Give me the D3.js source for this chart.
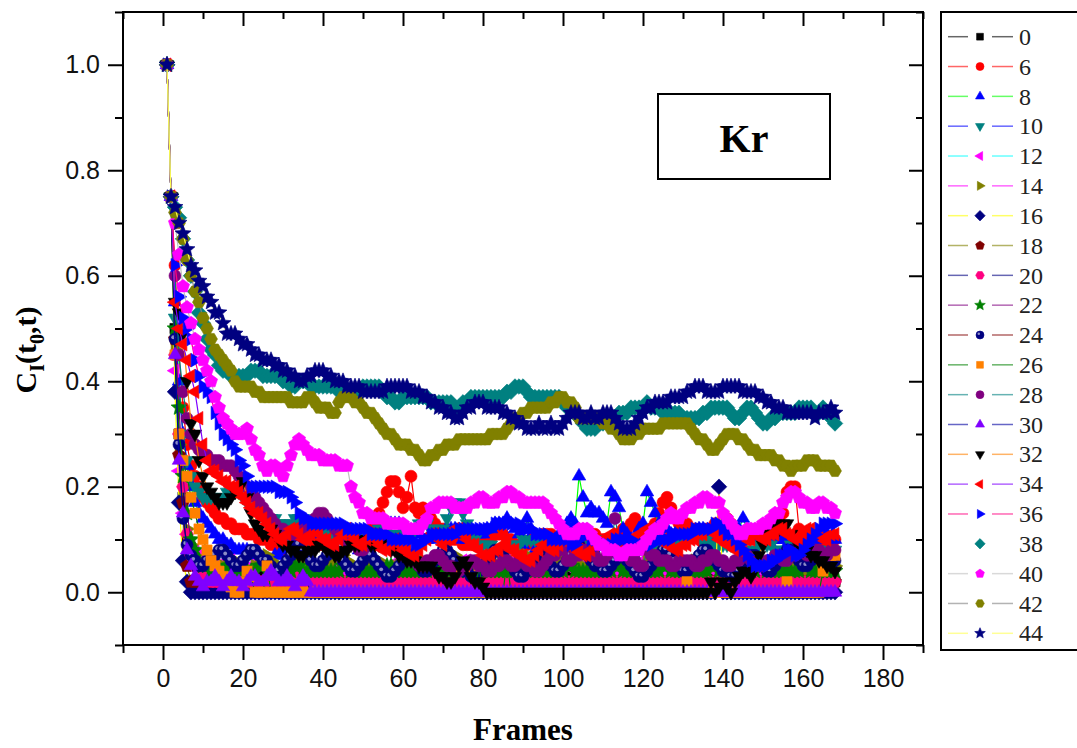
<!DOCTYPE html>
<html>
<head>
<meta charset="utf-8">
<script src="https://cdn.jsdelivr.net/npm/d3@7"></script>
<style>
  body { margin: 0; background: #fff; }
  svg { display: block; }
  .tick text { font-family: "Liberation Sans", Arial, sans-serif; font-size: 25px; fill: #111; }
  .tick line { stroke: #000; stroke-width: 2; }
</style>
</head>
<body>
<svg id="chart" width="1077" height="748"></svg>
<script>
"use strict";

// C_I(t0,t), one value per frame (frames 1..168), in hundredths
var s0 = [100,75,50,30,18,10,7,5,4,4,3,3,4,4,3,2,2,3,3,2,
  2,3,3,4,4,3,3,2,2,2,3,3,4,4,3,3,2,2,3,3,
  4,4,3,3,2,2,2,3,3,4,4,4,3,3,2,2,2,3,3,4,
  4,3,3,2,2,3,3,4,4,3,3,2,2,2,3,3,4,4,4,3,
  3,2,2,3,3,4,4,3,3,2,2,2,3,3,4,4,3,3,2,2,
  3,3,4,4,4,3,3,2,2,3,3,4,4,3,3,2,2,2,3,3,
  4,4,3,3,2,2,3,3,4,4,4,3,3,2,2,3,3,4,4,3,
  3,2,2,3,3,4,4,3,3,2,2,3,3,4,4,4,3,3,2,2,
  3,3,4,4,3,3,2,2];
var s6 = [100,75,62,45,35,28,24,22,20,18,17,16,15,14,14,13,13,12,12,12,
  11,11,11,10,10,10,9,9,9,8,8,8,9,9,10,10,10,9,9,9,
  10,10,10,11,11,11,10,10,10,11,11,12,13,15,17,19,21,21,19,16,
  18,22,16,15,16,15,14,13,12,12,11,10,10,10,9,9,9,9,10,10,
  10,10,11,11,11,10,10,9,9,9,9,10,10,10,11,11,11,10,10,10,
  10,9,9,9,10,10,11,11,10,10,10,10,11,11,12,12,13,14,12,11,
  11,12,13,15,17,18,16,14,13,13,13,12,12,11,11,12,12,13,13,14,
  14,13,12,11,10,10,10,11,11,11,12,12,13,14,15,19,20,20,12,11,
  10,9,9,8,8,9,9,10];
var s8 = [100,75,55,40,30,24,20,17,15,14,13,12,11,10,10,9,9,8,8,8,
  8,7,7,7,6,6,6,7,7,8,8,9,9,10,10,11,11,12,12,12,
  12,11,11,10,10,9,9,9,8,8,8,9,9,10,11,12,13,13,13,12,
  12,11,11,11,10,10,10,11,11,11,12,12,12,11,10,10,10,11,11,11,
  12,12,13,13,13,14,13,12,11,9,14,12,8,7,7,8,9,10,11,12,
  13,14,13,22,18,15,16,15,15,14,13,19,18,16,12,11,10,10,12,13,
  19,17,15,13,12,12,11,11,10,10,10,11,11,12,12,11,10,10,11,13,
  12,11,11,12,14,12,11,10,10,9,9,9,10,10,10,9,9,8,8,8,
  9,9,10,10,11,11,10,10];
var s10 = [100,75,52,38,30,25,22,20,19,18,18,18,18,18,18,19,19,19,19,18,
  17,16,16,15,15,14,14,14,13,13,13,13,14,14,14,13,13,12,12,12,
  12,11,11,11,10,10,10,10,10,11,11,11,11,12,12,12,11,11,11,11,
  12,12,12,13,13,13,12,12,12,12,14,16,17,17,15,13,11,10,9,9,
  9,9,8,8,8,8,9,9,9,10,10,10,10,10,10,9,9,9,9,9,
  9,8,8,8,8,8,9,9,9,9,10,10,10,10,9,9,9,9,8,8,
  8,8,9,9,9,9,10,10,10,10,11,11,11,10,10,10,9,9,9,9,
  9,9,9,8,8,8,8,8,9,9,9,9,8,8,8,8,9,9,9,9,
  9,8,8,8,8,8,8,8];
var s12 = [100,75,42,23,15,11,9,8,7,7,6,6,6,5,5,6,6,5,5,4,
  4,5,5,6,6,5,4,4,3,3,4,5,6,6,5,5,4,4,5,5,
  6,6,5,4,4,3,3,4,5,5,6,6,5,5,4,4,5,5,6,6,
  5,4,4,3,3,4,5,6,6,5,4,4,5,5,6,6,5,5,4,4,
  3,3,4,5,5,6,6,5,4,4,5,6,6,5,5,4,4,3,3,4,
  5,5,6,6,5,4,4,5,5,6,6,5,4,4,3,3,4,5,5,6,
  6,5,5,4,4,5,6,6,5,5,4,4,5,5,6,6,5,4,4,3,
  3,4,5,5,6,6,5,5,4,4,5,6,6,5,4,4,5,5,6,6,
  5,5,4,4,5,5,6,6];
var s14 = [100,75,46,28,18,12,9,7,6,5,5,5,4,4,5,5,6,6,5,5,
  4,4,5,6,6,7,6,5,5,4,4,5,5,6,6,5,5,4,4,5,
  5,6,6,7,7,6,5,5,4,4,5,5,6,6,5,4,4,5,5,6,
  6,7,7,6,6,5,5,4,4,5,6,6,7,6,5,5,4,4,5,5,
  6,6,5,5,4,4,5,5,6,7,7,6,6,5,5,4,4,5,6,6,
  7,7,6,5,5,4,4,5,5,6,6,7,7,6,5,5,4,4,5,5,
  6,6,7,7,6,6,5,5,4,4,5,5,6,6,7,6,6,5,5,4,
  4,5,5,6,6,7,7,6,5,5,4,4,5,6,6,7,7,6,5,5,
  4,4,5,5,6,6,5,5];
var s16 = [100,75,38,17,6,2,0,0,0,0,0,0,0,0,0,0,0,0,0,0,
  0,0,0,0,0,0,0,0,0,0,0,0,0,0,0,0,0,0,0,0,
  0,0,0,0,0,0,0,0,0,0,0,0,0,0,0,0,0,0,0,0,
  0,0,0,0,0,0,0,0,0,0,0,0,0,0,0,0,0,0,0,0,
  0,0,0,0,0,0,0,0,0,0,0,0,0,0,0,0,0,0,0,0,
  0,0,0,0,0,0,0,0,0,0,0,0,0,0,0,0,0,0,0,0,
  0,0,0,0,0,0,0,0,0,0,0,0,0,0,0,0,0,0,20,0,
  0,0,0,0,0,0,0,0,0,0,0,0,0,0,0,0,0,0,0,0,
  0,0,0,0,0,0,0,0];
var s18 = [100,75,48,26,17,5,2,2,2,2,2,2,2,2,2,2,2,2,2,2,
  2,2,2,2,2,2,2,2,2,2,2,2,2,2,2,2,2,2,2,2,
  2,2,2,2,2,2,2,2,2,2,2,2,2,2,2,2,2,2,2,2,
  2,2,2,2,2,2,2,2,2,2,2,2,2,2,2,2,2,2,2,2,
  2,2,2,2,2,2,2,2,2,2,2,2,2,2,2,2,2,2,2,2,
  2,2,2,2,2,2,2,2,2,2,2,2,2,2,2,2,2,2,2,2,
  2,2,2,2,2,2,2,2,2,2,2,2,2,2,2,2,2,2,2,2,
  2,2,2,2,2,2,2,2,2,2,2,2,2,2,2,2,2,2,2,2,
  2,2,2,2,2,2,2,2];
var s20 = [100,75,45,30,20,11,7,5,4,3,3,2,2,2,2,2,2,2,2,2,
  2,2,2,2,2,2,2,2,2,2,2,2,4,2,2,2,2,2,2,2,
  2,2,2,2,2,2,2,2,2,2,2,2,2,2,2,2,2,2,2,2,
  2,2,2,2,2,2,2,4,2,2,2,2,2,2,2,2,2,2,2,2,
  2,2,2,2,2,2,2,2,2,2,2,2,2,2,2,2,4,2,2,2,
  2,2,2,2,2,2,2,2,2,2,2,2,2,2,2,2,2,2,2,2,
  2,2,2,2,2,2,2,2,2,4,2,2,2,2,2,2,2,2,2,2,
  2,2,2,2,2,2,2,2,2,2,2,2,2,2,2,2,2,2,2,2,
  2,2,2,2,2,2,2,2];
var s22 = [100,75,50,35,22,15,10,8,6,5,5,4,4,4,4,5,5,4,4,4,
  4,4,4,5,5,4,4,4,4,4,4,4,5,5,4,4,4,4,4,4,
  4,4,4,4,5,5,4,4,4,4,4,4,4,4,4,5,5,4,4,4,
  4,4,4,4,4,4,5,5,4,4,4,4,4,4,4,4,4,4,5,5,
  4,4,4,4,4,4,4,4,4,5,5,4,4,4,4,4,4,4,4,4,
  5,5,4,4,4,4,4,4,4,4,4,4,5,5,4,4,4,4,4,4,
  4,4,4,4,5,5,4,4,4,4,4,4,4,4,4,4,5,5,4,4,
  4,4,4,4,4,4,4,4,5,5,4,4,4,4,4,4,4,4,4,5,
  5,4,4,4,4,4,4,4];
var s24 = [100,75,48,28,14,9,7,6,5,5,6,6,7,8,8,7,6,5,5,6,
  7,8,8,7,6,6,5,4,4,5,6,7,8,9,8,7,6,5,5,6,
  7,8,8,7,6,5,4,4,5,6,7,7,6,5,4,3,3,4,5,6,
  7,7,6,5,4,4,5,6,7,8,8,7,6,5,4,4,3,3,4,5,
  6,7,8,8,7,6,5,4,3,3,4,5,6,7,7,6,5,4,4,5,
  6,7,8,9,8,7,6,5,5,4,4,5,6,7,7,6,5,4,3,3,
  4,5,6,7,8,8,7,6,5,4,4,5,6,7,8,8,7,6,5,4,
  4,3,3,4,5,6,7,7,6,5,4,4,5,6,7,8,8,7,6,5,
  5,6,7,7,6,5,5,6];
var s26 = [100,75,45,30,25,22,18,15,12,10,8,6,5,4,3,2,1,0,0,2,
  4,3,0,0,0,5,0,0,0,0,0,0,0,0,0,0,0,0,0,0,
  0,0,0,0,0,0,0,0,0,0,0,0,0,0,0,0,0,0,0,0,
  0,0,0,0,0,0,0,0,0,0,0,0,0,0,0,0,0,0,5,0,
  0,0,0,0,0,6,0,0,0,0,0,0,0,0,0,0,0,0,0,0,
  0,0,0,0,0,0,0,0,0,0,0,0,0,0,0,0,0,0,0,0,
  0,0,0,0,0,0,0,0,0,0,2,0,0,0,0,0,0,0,0,0,
  0,0,0,0,0,0,0,0,0,0,0,0,0,0,0,2,0,0,0,0,
  0,0,0,0,4,7,7,7];
var s28 = [100,75,60,45,38,33,30,28,27,26,26,25,25,25,24,24,24,23,22,21,
  20,19,18,17,16,15,14,13,12,12,11,11,11,12,12,13,13,14,15,15,
  14,13,12,11,10,10,9,9,8,8,9,10,10,11,11,10,9,8,8,7,
  7,6,6,5,5,6,6,7,7,6,5,5,4,4,5,5,6,6,5,5,
  4,4,5,5,6,6,5,5,6,6,5,5,4,4,5,6,7,7,8,8,
  6,6,7,7,8,8,7,7,6,6,7,9,14,10,8,7,6,6,5,5,
  8,7,7,6,6,6,5,5,6,6,6,6,5,5,6,6,7,7,6,6,
  5,5,6,6,7,7,6,6,5,5,6,6,7,7,6,6,7,7,8,8,
  7,7,8,8,7,7,8,8];
var s30 = [100,75,45,25,15,8,5,3,2,1,2,2,3,2,1,2,3,2,2,1,
  2,3,3,2,2,3,4,3,2,2,3,2,1,2,3,2,0,0,0,0,
  0,0,0,0,0,0,0,0,0,0,0,0,0,0,0,0,0,0,0,0,
  0,0,0,0,0,0,0,0,0,0,0,0,0,0,0,0,0,0,0,0,
  0,0,0,0,0,0,0,0,0,0,0,0,0,0,0,0,0,0,0,0,
  0,0,0,0,0,0,0,0,0,0,0,0,0,0,0,0,0,0,0,0,
  0,0,0,0,0,0,0,0,0,0,0,0,0,0,0,0,0,0,0,0,
  0,0,0,0,0,0,0,0,0,0,0,0,0,0,0,0,0,0,0,0,
  0,0,0,0,0,0,0,0];
var s32 = [100,75,55,53,49,40,32,30,25,22,20,19,18,17,17,17,18,19,20,21,
  18,15,13,12,11,11,12,11,10,9,9,8,8,7,7,8,8,8,9,9,
  8,8,7,7,8,8,9,9,9,10,10,9,9,9,10,9,8,8,7,7,
  6,6,6,5,5,5,5,4,3,3,2,2,3,5,6,5,3,2,2,1,
  0,0,0,0,0,0,0,0,0,0,0,0,0,0,0,0,0,0,0,0,
  0,0,0,0,0,0,0,0,0,0,0,0,0,0,0,0,0,0,0,0,
  0,0,0,0,0,0,0,0,0,0,0,0,0,0,0,0,2,0,1,2,
  1,0,2,3,4,4,3,5,7,9,11,12,13,12,13,13,11,10,9,8,
  8,7,7,6,6,5,5,4];
var s34 = [100,75,55,50,47,44,41,38,33,28,25,23,23,22,21,21,20,20,19,18,
  17,16,15,15,14,13,12,11,10,10,11,12,12,11,10,10,11,12,11,10,
  10,9,9,10,11,12,11,10,9,9,10,11,10,9,8,8,9,10,9,8,
  8,7,7,8,9,10,11,11,10,9,10,11,12,12,11,10,9,9,8,7,
  7,7,8,8,9,9,8,8,7,7,6,6,7,8,9,9,8,8,9,10,
  10,9,8,8,7,7,8,9,9,10,10,11,11,10,9,9,10,10,11,11,
  12,12,11,10,10,9,9,8,8,9,9,10,10,11,11,12,12,11,10,10,
  9,9,8,8,9,10,10,11,11,10,10,11,11,12,12,11,11,10,10,11,
  12,12,11,11,10,10,11,11];
var s36 = [100,75,62,56,52,50,48,44,41,39,38,37,34,32,30,29,28,27,25,24,
  22,20,20,20,20,20,20,20,19,19,19,18,17,15,14,14,13,13,13,13,
  13,13,13,13,13,12,12,12,12,12,12,11,11,11,11,11,10,10,10,10,
  10,10,9,9,10,10,11,11,11,11,11,11,11,12,12,12,12,12,12,12,
  12,12,13,13,13,13,13,13,13,12,12,12,11,11,11,11,10,10,10,10,
  10,9,9,10,11,11,10,10,9,9,9,9,10,10,10,10,10,9,9,9,
  9,9,10,10,10,10,10,11,11,11,11,11,12,12,12,12,12,13,13,12,
  11,11,10,9,8,7,6,5,5,5,5,6,6,7,7,8,8,7,7,8,
  9,10,11,12,13,13,13,13];
var s38 = [100,75,73,71,67,63,60,57,53,51,48,46,45,43,42,42,41,41,41,41,
  41,42,42,42,41,41,41,41,41,40,40,39,39,40,40,40,39,39,39,39,
  39,39,39,38,38,38,38,38,38,39,39,39,39,39,38,37,37,36,36,37,
  37,37,37,37,37,37,36,36,36,36,36,36,35,35,36,36,37,37,37,37,
  37,37,37,37,37,38,38,39,39,39,38,37,37,37,37,37,37,37,37,36,
  35,35,34,33,32,31,31,31,32,32,33,33,33,34,34,34,35,35,35,35,
  36,35,35,35,34,34,34,34,34,33,33,33,33,33,34,34,35,35,35,35,
  35,34,33,33,34,35,35,34,33,32,32,33,33,34,34,34,34,34,35,35,
  35,35,34,34,35,34,33,32];
var s40 = [100,75,70,64,58,54,51,48,46,44,42,40,37,35,33,32,31,30,30,30,
  31,29,27,26,24,23,24,24,23,22,24,26,28,29,28,27,26,26,26,25,
  25,25,25,24,24,24,20,18,17,15,15,14,14,14,14,13,13,13,13,13,
  12,12,12,12,13,14,16,16,17,17,17,17,16,16,16,16,17,17,18,18,
  17,17,17,18,18,19,19,18,18,17,17,17,17,17,17,16,15,14,13,12,
  11,11,11,12,12,12,11,10,9,9,8,8,8,7,7,8,8,8,8,9,
  10,11,12,12,13,14,15,14,14,15,16,16,17,17,18,18,17,17,17,15,
  14,13,12,11,11,12,12,12,12,13,13,14,15,15,17,18,19,19,18,17,
  17,16,16,17,17,16,16,15];
var s42 = [100,75,72,70,67,63,60,57,55,52,50,48,46,45,44,43,42,40,39,39,
  39,39,38,38,37,37,37,37,37,37,37,36,36,36,36,37,37,36,35,35,
  35,34,34,36,37,37,37,36,36,35,34,34,33,32,31,30,30,29,28,28,
  28,27,27,26,25,25,26,26,27,27,28,28,28,29,29,29,29,29,29,29,
  29,30,30,30,30,31,32,33,33,34,34,35,35,35,35,35,36,36,37,37,
  36,36,35,33,33,33,33,33,33,32,32,31,31,30,29,29,29,30,30,31,
  31,31,31,31,32,32,32,32,32,32,32,31,30,29,29,28,27,27,28,29,
  30,30,30,29,29,28,27,27,26,26,26,26,25,25,24,24,23,24,24,24,
  25,25,25,24,24,24,24,23];
var s44 = [100,75,73,70,68,65,62,61,59,58,56,55,53,53,51,49,49,49,48,47,
  47,46,45,45,44,44,44,43,43,42,42,41,41,40,40,41,41,42,42,42,
  41,41,40,40,40,39,39,39,39,38,38,38,38,38,38,39,39,39,39,39,
  39,38,38,38,37,37,36,36,35,35,34,34,33,33,34,35,35,36,36,36,
  35,35,35,35,34,34,33,33,32,32,31,31,31,32,31,31,32,31,31,32,
  33,34,34,34,33,33,34,33,33,34,34,34,33,32,31,31,31,32,33,34,
  35,35,36,36,36,36,37,37,37,37,38,38,39,39,39,38,38,38,38,39,
  39,39,39,39,38,38,38,38,37,37,36,36,35,35,35,34,34,34,34,34,
  34,34,33,34,34,34,35,34];

var seriesNames = ["0","6","8","10","12","14","16","18","20","22","24",
  "26","28","30","32","34","36","38","40","42","44"];
var seriesValues = [s0, s6, s8, s10, s12, s14, s16, s18, s20, s22, s24,
  s26, s28, s30, s32, s34, s36, s38, s40, s42, s44];
var lineColors = ["#000000","#FF0000","#00FF00","#0000FF","#00FFFF","#FF00FF","#FFFF00",
  "#808000","#000080","#800080","#800000","#008000","#008080","#0000A0","#FF8000",
  "#8000FF","#FF0080","#FFFFFF","#C0C0C0","#808080","#FFFF50"];
var markColors = ["#000000","#FF0000","#0000FF","#008080","#FF00FF","#808000","#000080",
  "#800000","#FF0080","#008000","#000080","#FF8000","#800080","#8000FF","#000000",
  "#FF0000","#0000FF","#008080","#FF00FF","#808000","#000080"];
var markShapes = ["square","circle","up","down","left","right","diamond","pentagon",
  "hexagon","star","sphere","square","circle","up","down","left","right","diamond",
  "pentagon","hexagon","star"];

var xTicks = [0, 20, 40, 60, 80, 100, 120, 140, 160, 180];
var yTicks = [0, 0.2, 0.4, 0.6, 0.8, 1.0];
var xMinor = d3.range(-10, 191, 20);
var yMinor = [-0.1, 0.1, 0.3, 0.5, 0.7, 0.9, 1.1];

var svg = d3.select("#chart");
var x = d3.scaleLinear().domain([-10, 190]).range([123, 923]);
var y = d3.scaleLinear().domain([-0.1, 1.1]).range([645, 12]);

// marker outlines
function polygon(n, R, a0) {
  var pts = d3.range(n).map(function(k) {
    var a = a0 + k * 2 * Math.PI / n;
    return [R * Math.cos(a), R * Math.sin(a)];
  });
  return d3.line()(pts) + "Z";
}
function starPath(R) {
  var pts = d3.range(10).map(function(k) {
    var a = -Math.PI / 2 + k * Math.PI / 5;
    var r = k % 2 ? R * 0.45 : R;
    return [r * Math.cos(a), r * Math.sin(a)];
  });
  return d3.line()(pts) + "Z";
}
function shapePath(shape, r) {
  switch (shape) {
    case "square": return polygon(4, r * 1.2, Math.PI / 4);
    case "up": return polygon(3, r * 1.3, -Math.PI / 2);
    case "down": return polygon(3, r * 1.3, Math.PI / 2);
    case "left": return polygon(3, r * 1.3, Math.PI);
    case "right": return polygon(3, r * 1.3, 0);
    case "diamond": return polygon(4, r * 1.3, -Math.PI / 2);
    case "pentagon": return polygon(5, r * 1.15, -Math.PI / 2);
    case "hexagon": return polygon(6, r * 1.08, 0);
    case "star": return starPath(r * 1.4);
    default: return d3.symbol(d3.symbolCircle, Math.PI * r * r)();
  }
}
function drawMarker(g, shape, color, r) {
  g.append("path")
    .attr("d", shapePath(shape, r))
    .attr("fill", color)
    .attr("stroke", color)
    .attr("stroke-width", 0.6);
  if (shape === "sphere") {
    g.append("circle")
      .attr("cx", -r * 0.3).attr("cy", -r * 0.3).attr("r", r * 0.32)
      .attr("fill", "#fff").attr("opacity", 0.55);
  }
}

// axes
function styleAxis(g) {
  g.select(".domain").remove();
  g.selectAll(".tick line").attr("stroke", "#000").attr("stroke-width", 2);
}
svg.append("g").attr("transform", "translate(0,645)")
  .call(d3.axisBottom(x).tickValues(xTicks).tickSize(15).tickPadding(9).tickFormat(d3.format("d")))
  .call(styleAxis);
svg.append("g").attr("transform", "translate(0,645)")
  .call(d3.axisBottom(x).tickValues(xMinor).tickSize(8).tickFormat(""))
  .call(styleAxis);
svg.append("g").attr("transform", "translate(123,0)")
  .call(d3.axisLeft(y).tickValues(yTicks).tickSize(15).tickPadding(8).tickFormat(d3.format(".1f")))
  .call(styleAxis);
svg.append("g").attr("transform", "translate(123,0)")
  .call(d3.axisLeft(y).tickValues(yMinor).tickSize(8).tickFormat(""))
  .call(styleAxis);
// mirrored ticks pointing inward on top and right
svg.append("g").attr("transform", "translate(0,12)")
  .call(d3.axisBottom(x).tickValues(xTicks).tickSize(14).tickFormat(""))
  .call(styleAxis);
svg.append("g").attr("transform", "translate(0,12)")
  .call(d3.axisBottom(x).tickValues(xMinor).tickSize(7).tickFormat(""))
  .call(styleAxis);
svg.append("g").attr("transform", "translate(923,0)")
  .call(d3.axisLeft(y).tickValues(yTicks).tickSize(14).tickFormat(""))
  .call(styleAxis);
svg.append("g").attr("transform", "translate(923,0)")
  .call(d3.axisLeft(y).tickValues(yMinor).tickSize(7).tickFormat(""))
  .call(styleAxis);

svg.append("rect")
  .attr("x", x(-10)).attr("y", y(1.1))
  .attr("width", x(190) - x(-10)).attr("height", y(-0.1) - y(1.1))
  .attr("fill", "none").attr("stroke", "#000").attr("stroke-width", 2);

// series
var line = d3.line()
  .x(function(d) { return x(d.t); })
  .y(function(d) { return y(d.v); });

seriesValues.forEach(function(vals, i) {
  var pts = vals.map(function(p, k) { return { t: k + 1, v: p / 100 }; });
  var g = svg.append("g").attr("class", "series");
  g.append("path")
    .datum(pts)
    .attr("d", line)
    .attr("fill", "none")
    .attr("stroke", lineColors[i])
    .attr("stroke-width", 1.2);
  g.selectAll("g.mark")
    .data(pts)
    .enter().append("g")
    .attr("class", "mark")
    .attr("transform", function(d) { return "translate(" + x(d.t) + "," + y(d.v) + ")"; })
    .each(function() { drawMarker(d3.select(this), markShapes[i], markColors[i], 6); });
});

// "Kr" label box
svg.append("rect")
  .attr("x", 658).attr("y", 94).attr("width", 172).attr("height", 85)
  .attr("fill", "#fff").attr("stroke", "#000").attr("stroke-width", 2);
svg.append("text")
  .attr("x", 744).attr("y", 152)
  .attr("text-anchor", "middle")
  .style("font-family", "'Liberation Serif', 'Times New Roman', serif")
  .style("font-weight", "bold").style("font-size", "40px")
  .text("Kr");

// axis titles
svg.append("text")
  .attr("x", 523).attr("y", 740)
  .attr("text-anchor", "middle")
  .style("font-family", "'Liberation Serif', 'Times New Roman', serif")
  .style("font-weight", "bold").style("font-size", "31px")
  .text("Frames");

var yTitle = svg.append("text")
  .attr("transform", "translate(36,350) rotate(-90)")
  .attr("text-anchor", "middle")
  .style("font-family", "'Liberation Serif', 'Times New Roman', serif")
  .style("font-weight", "bold").style("font-size", "30px");
yTitle.append("tspan").text("C");
yTitle.append("tspan").attr("dy", 8).style("font-size", "20px").text("I");
yTitle.append("tspan").attr("dy", -8).text("(t");
yTitle.append("tspan").attr("dy", 8).style("font-size", "20px").text("0");
yTitle.append("tspan").attr("dy", -8).text(",t)");

// legend
svg.append("rect")
  .attr("x", 941).attr("y", 12).attr("width", 150).attr("height", 638)
  .attr("fill", "#fff").attr("stroke", "#000").attr("stroke-width", 2);
var ly = d3.scaleLinear().domain([0, seriesNames.length - 1]).range([36.7, 633.3]);
seriesNames.forEach(function(name, i) {
  var row = svg.append("g").attr("transform", "translate(0," + ly(i) + ")");
  [[948, 968], [992, 1013]].forEach(function(seg) {
    row.append("line")
      .attr("x1", seg[0]).attr("x2", seg[1])
      .attr("stroke", lineColors[i]).attr("stroke-width", 1.5)
      .attr("stroke-opacity", 0.6);
  });
  var m = row.append("g").attr("transform", "translate(980,0)");
  drawMarker(m, markShapes[i], markColors[i], 4);
  row.append("text")
    .attr("x", 1019).attr("y", 0).attr("dy", "0.34em")
    .style("font-family", "'Liberation Serif', 'Times New Roman', serif")
    .style("font-size", "24px").style("fill", "#222")
    .text(name);
});
</script>
</body>
</html>
